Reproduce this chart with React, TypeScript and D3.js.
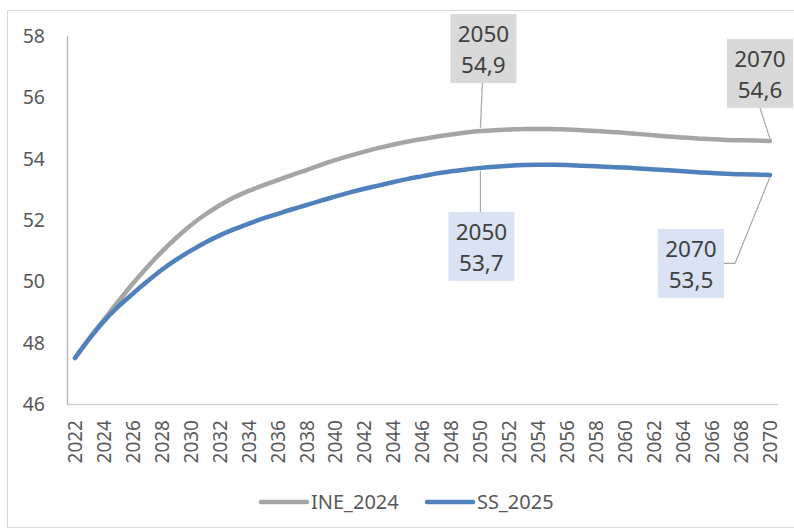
import React from "react";
import * as d3 from "d3";

const years: number[] = d3.range(2022, 2071);
const tickYears: number[] = d3.range(2022, 2071, 2);
const yTicks: number[] = [46, 48, 50, 52, 54, 56, 58];

const ine2024: number[] = [
  47.5, 48.15, 48.75, 49.35, 49.93, 50.47, 50.97, 51.42, 51.83, 52.18,
  52.48, 52.74, 52.95, 53.13, 53.3, 53.47, 53.63, 53.8, 53.96, 54.1,
  54.23, 54.35, 54.46, 54.56, 54.64, 54.72, 54.79, 54.85, 54.9, 54.93,
  54.95, 54.97, 54.97, 54.97, 54.95, 54.93, 54.9, 54.87, 54.84, 54.8,
  54.76, 54.72, 54.69, 54.66, 54.63, 54.61, 54.6, 54.59, 54.58,
];
const ss2025: number[] = [
  47.5, 48.13, 48.7, 49.18, 49.6, 50.0, 50.38, 50.71, 51.0, 51.27,
  51.5, 51.7, 51.88, 52.05, 52.2, 52.35, 52.49, 52.63, 52.77, 52.9,
  53.02, 53.13, 53.24, 53.34, 53.43, 53.52, 53.59, 53.65, 53.7, 53.74,
  53.77, 53.79, 53.8, 53.8, 53.79, 53.77, 53.75, 53.73, 53.71, 53.68,
  53.65, 53.62, 53.59, 53.56, 53.53, 53.51, 53.49, 53.48, 53.47,
];

const seriesNames = ["INE_2024", "SS_2025"];
const seriesColors = ["#a5a5a5", "#4f81bd"];

// annotations: series index, year, label text, box fill, box offset from point (center x, top y)
const annotations = [
  { s: 0, year: 2050, value: "54,9", fill: "#d9d9d9", dx: 3, dy: -117 },
  { s: 0, year: 2070, value: "54,6", fill: "#d9d9d9", dx: -10, dy: -102 },
  { s: 1, year: 2050, value: "53,7", fill: "#dae3f3", dx: 1, dy: 44 },
  { s: 1, year: 2070, value: "53,5", fill: "#dae3f3", dx: -79, dy: 54 },
];

const FONT = "'Noto Sans', 'Open Sans', sans-serif";

export default function App() {
  const W = 794, H = 531;
  const x = d3.scalePoint<number>().domain(years).range([75, 770]);
  const y = d3.scaleLinear().domain([46, 58]).range([404, 36]);
  const data = [ine2024, ss2025];
  const line = d3
    .line<number>()
    .x((_, i) => x(years[i]) as number)
    .y((v) => y(v))
    .curve(d3.curveCatmullRom.alpha(0.5));

  const boxW = 66, boxH = 69;

  return (
    <svg
      width={W}
      height={H}
      style={{ position: "fixed", left: 0, top: 0, background: "#fff" }}
      fontFamily={FONT}
    >
      <rect x={7.5} y={10.5} width={800} height={517} fill="#fff" stroke="#d9d9d9" strokeWidth={1.2} />

      {/* axes */}
      <line x1={67.5} x2={67.5} y1={36} y2={404} stroke="#b3b3b3" strokeWidth={1.3} />
      <line x1={67} x2={778} y1={404.5} y2={404.5} stroke="#d0d0d0" strokeWidth={1.3} />

      {yTicks.map((t) => (
        <text key={t} x={45} y={y(t)} dy="0.36em" textAnchor="end" fontSize={19.5} fill="#595959">
          {t}
        </text>
      ))}

      {tickYears.map((t) => (
        <text
          key={t}
          transform={`translate(${x(t)},420) rotate(-90)`}
          dy="0.36em"
          textAnchor="end"
          fontSize={19}
          fill="#595959"
        >
          {t}
        </text>
      ))}

      {data.map((d, i) => (
        <path
          key={i}
          d={line(d) || ""}
          fill="none"
          stroke={seriesColors[i]}
          strokeWidth={4.5}
          strokeLinecap="round"
          strokeLinejoin="round"
        />
      ))}

      {annotations.map((a, k) => {
        const px = x(a.year) as number;
        const py = y(data[a.s][years.indexOf(a.year)]);
        const cx = px + a.dx;
        const top = py + a.dy;
        const bx = cx - boxW / 2;
        let leader: string;
        if (a.dy < 0 && Math.abs(a.dx) < 6) {
          leader = `M${cx - 1},${top + boxH} L${px},${py - 3}`;
        } else if (a.dy < 0) {
          leader = `M${cx},${top + boxH} L${px},${py - 2}`;
        } else if (Math.abs(a.dx) < 6) {
          leader = `M${cx - 1},${top} L${px},${py + 3}`;
        } else {
          const my = top + boxH / 2;
          leader = `M${bx + boxW},${my} L${bx + boxW + 11},${my} L${px},${py + 2}`;
        }
        return (
          <g key={k}>
            <path d={leader} fill="none" stroke="#a6a6a6" strokeWidth={1.2} />
            <rect x={bx} y={top} width={boxW} height={boxH} fill={a.fill} />
            <text x={cx} y={top + 28} textAnchor="middle" fontSize={22.5} fill="#404040">
              {a.year}
            </text>
            <text x={cx} y={top + 59} textAnchor="middle" fontSize={22.5} fill="#404040">
              {a.value}
            </text>
          </g>
        );
      })}

      {/* legend */}
      {seriesNames.map((n, i) => {
        const lx = i === 0 ? 261 : 427;
        return (
          <g key={n}>
            <line x1={lx} x2={lx + 46} y1={502} y2={502} stroke={seriesColors[i]} strokeWidth={4.5} strokeLinecap="round" />
            <text x={lx + 50} y={509} fontSize={20} fill="#595959">
              {n}
            </text>
          </g>
        );
      })}
    </svg>
  );
}
